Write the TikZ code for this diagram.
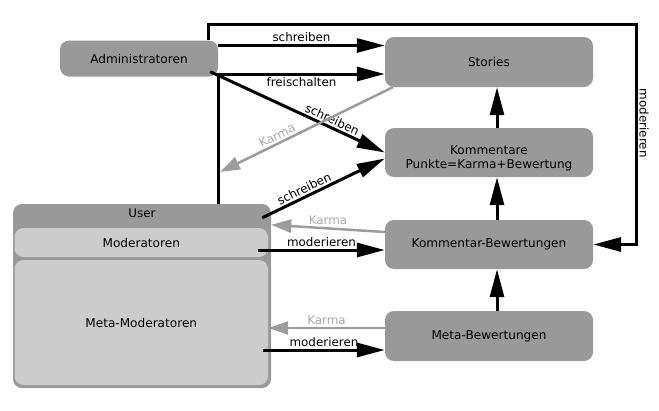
\documentclass[tikz,border=0pt]{standalone}
\usepackage{fontspec}
\setmainfont{DejaVu Sans}
\usetikzlibrary{arrows.meta, positioning}

\definecolor{boxgray}{HTML}{999999}
\definecolor{modgray}{HTML}{CCCCCC}
\definecolor{karmagray}{HTML}{9C9C9C}
\definecolor{karmatext}{HTML}{A8A8A8}

\tikzset{
  box/.style={rectangle, rounded corners=9pt, fill=boxgray, inner sep=0pt, align=center,
    minimum width=208pt, minimum height=50pt, font=\fontsize{12.1}{15}\selectfont},
  modbox/.style={box, fill=modgray, minimum width=253.5pt},
  flow/.style={line width=3pt, -{Triangle[length=28pt, width=14pt]}},
  karma/.style={line width=2.5pt, draw=karmagray, -{Triangle[length=20pt, width=13pt]}},
  lab/.style={font=\fontsize{11.9}{14}\selectfont, inner sep=2pt},
  klab/.style={lab, text=karmatext},
}

\begin{document}
\begin{tikzpicture}[x=1pt, y=-1pt]
        \useasboundingbox (0,0) rectangle (659,410);
        % Kaesten rechts
        \node[box] (stories) at (489,62) {Stories};
        \node[box, minimum height=49pt] (komm) at (489,152.5) {\raisebox{-6pt}[9pt][3pt]{\begin{tabular}{@{}c@{}}Kommentare\\[-1pt]Punkte=Karma+Bewertung\end{tabular}}};
        \node[box, minimum height=49pt] (kbew) at (489,244.5) {Kommentar-Bewertungen};
        \node[box] (mbew) at (489,336) {Meta-Bewertungen};
        % Administratoren
        \node[box, minimum width=158pt, minimum height=36pt] (admin) at (139,58.5) {Administratoren};
        % User mit Moderatoren
        \node[box, minimum width=258pt, minimum height=184pt,
          label={[lab, anchor=north, yshift=-3pt]north:User}] (user) at (142,296) {};
        \node[modbox, minimum height=29pt] (modr) at (141.25,242.5) {Moderatoren};
        \node[modbox, minimum height=125pt] (metamod) at (141.25,322.5) {Meta-Moderatoren};
        % Ecke oben rechts
        \coordinate (mtop) at (636,24);
        \coordinate (kdiag) at (220,172);

        % Administratoren
        \draw[flow] ([xshift=-10pt]admin.north east) |- (mtop)
          -- node[lab, rotate=-90, anchor=south, pos=.45] {moderieren} (mtop |- kbew.east) -- (kbew.east);
        \draw[flow] ([yshift=13pt]admin.east) coordinate (s1) -- node[lab, above] {schreiben} (stories.west |- s1);
        \draw[flow] (user.north -| admin.east) |- node[lab, below, pos=.75] {freischalten} ([yshift=-12pt]stories.west);
        \draw[flow] ([xshift=-8pt, yshift=5pt]admin.south east) -- node[lab, sloped, above, pos=.68] {schreiben} (komm.west);
        % Karma zu den Usern
        \draw[karma] ([xshift=8pt]stories.south west) -- node[klab, sloped, above, pos=.65] {Karma} (kdiag);
        \draw[karma] ([yshift=12.5pt]kbew.west) -- node[klab, above] {Karma} ([yshift=-21pt]user.north east);
        \draw[karma] ([yshift=8pt]mbew.west) coordinate (k3) -- node[klab, above] {Karma} (metamod.east |- k3);
        % User
        \draw[flow] ([xshift=-9pt, yshift=-14pt]user.north east) -- node[lab, sloped, above, pos=.37] {schreiben} ([yshift=-6pt]komm.west);
        \draw[flow] ([xshift=-10pt, yshift=-7.5pt]modr.east) coordinate (m1) -- node[lab, above] {moderieren} (kbew.west |- m1);
        \draw[flow] ([xshift=-5pt, yshift=-14pt]metamod.east |- mbew.west) -- node[lab, above] {moderieren} ([yshift=-14pt]mbew.west);
        % Bewertungen nach oben
        \draw[flow] ([xshift=8pt]komm.north) -- ([xshift=8pt]stories.south);
        \draw[flow] ([xshift=8pt]kbew.north) -- ([xshift=8pt]komm.south);
        \draw[flow] ([xshift=8pt]mbew.north) -- ([xshift=8pt]kbew.south);
    \end{tikzpicture}
\end{document}
